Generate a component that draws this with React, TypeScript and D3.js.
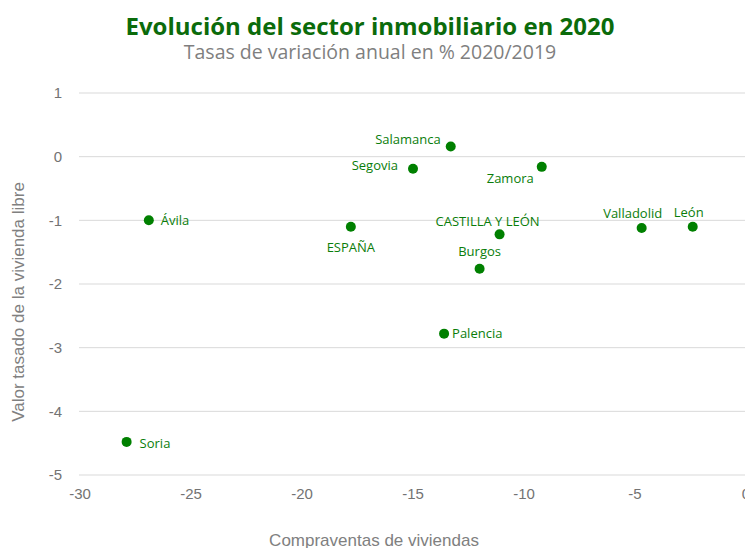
import React from 'react';
import * as d3 from 'd3';

// provinces
const names = ['Salamanca', 'Segovia', 'Zamora', 'Ávila', 'ESPAÑA', 'CASTILLA Y LEÓN', 'Burgos', 'Palencia', 'Valladolid', 'León', 'Soria'];
const compraventas = [-13.3, -15.0, -9.2, -26.9, -17.8, -11.1, -12.0, -13.6, -4.7, -2.4, -27.9];
const valorTasado = [0.16, -0.19, -0.16, -1.0, -1.1, -1.22, -1.76, -2.78, -1.12, -1.1, -4.48];
const xTicks = [-30, -25, -20, -15, -10, -5, 0];
const yTicks = [1, 0, -1, -2, -3, -4, -5];

// where each label sits relative to its dot
const placement: Record<string, [number, number, string]> = {
  'Salamanca': [-10, -7, 'end'],
  'Segovia': [-15, -3, 'end'],
  'Zamora': [-8, 12, 'end'],
  'Ávila': [12, 0, 'start'],
  'ESPAÑA': [0, 21, 'middle'],
  'CASTILLA Y LEÓN': [-12, -13, 'middle'],
  'Burgos': [0, -17, 'middle'],
  'Palencia': [8, 0, 'start'],
  'Valladolid': [-9, -15, 'middle'],
  'León': [-4, -14, 'middle'],
  'Soria': [13, 2, 'start'],
};

const W = 745, H = 548;
const green = '#0a7d0a';
const axisFont = '"Liberation Sans", Arial, sans-serif';
const labelFont = '"Open Sans", "Noto Sans", sans-serif';

export default function App() {
  const x = d3.scaleLinear().domain([-30, 0]).range([80, 746]);
  const y = d3.scaleLinear().domain([-5, 1]).range([475, 93]);

  return (
    <svg width={W} height={H} style={{ position: 'absolute', left: 0, top: 0, background: '#fff' }}>
      <text x={370} y={35} textAnchor="middle" fill="#0b6b0b" fontFamily={labelFont} fontWeight="bold" fontSize={24}>
        Evolución del sector inmobiliario en 2020
      </text>
      <text x={370} y={59} textAnchor="middle" fill="#7f7f7f" fontFamily={labelFont} fontSize={19.5}>
        Tasas de variación anual en % 2020/2019
      </text>

      {yTicks.map(t => (
        <g key={t}>
          <line x1={79} x2={W} y1={y(t)} y2={y(t)} stroke="#d9d9d9" strokeWidth={1} />
          <text x={62} y={y(t)} dy="0.35em" textAnchor="end" fill="#737373" fontFamily={axisFont} fontSize={15}>{t}</text>
        </g>
      ))}
      {xTicks.map(t => (
        <text key={t} x={x(t)} y={499} textAnchor="middle" fill="#737373" fontFamily={axisFont} fontSize={15}>{t}</text>
      ))}

      <text transform="translate(24,302) rotate(-90)" textAnchor="middle" fill="#808080" fontFamily={axisFont} fontSize={17}>
        Valor tasado de la vivienda libre
      </text>
      <text x={374} y={546} textAnchor="middle" fill="#808080" fontFamily={axisFont} fontSize={17}>
        Compraventas de viviendas
      </text>

      {names.map((n, i) => {
        const cx = x(compraventas[i]);
        const cy = y(valorTasado[i]);
        const [dx, dy, anchor] = placement[n];
        return (
          <g key={n}>
            <circle cx={cx} cy={cy} r={5} fill="#008000" />
            <text x={cx + dx} y={cy + dy} dy="0.35em" textAnchor={anchor} fill={green} fontFamily={labelFont} fontSize={13}>{n}</text>
          </g>
        );
      })}
    </svg>
  );
}
